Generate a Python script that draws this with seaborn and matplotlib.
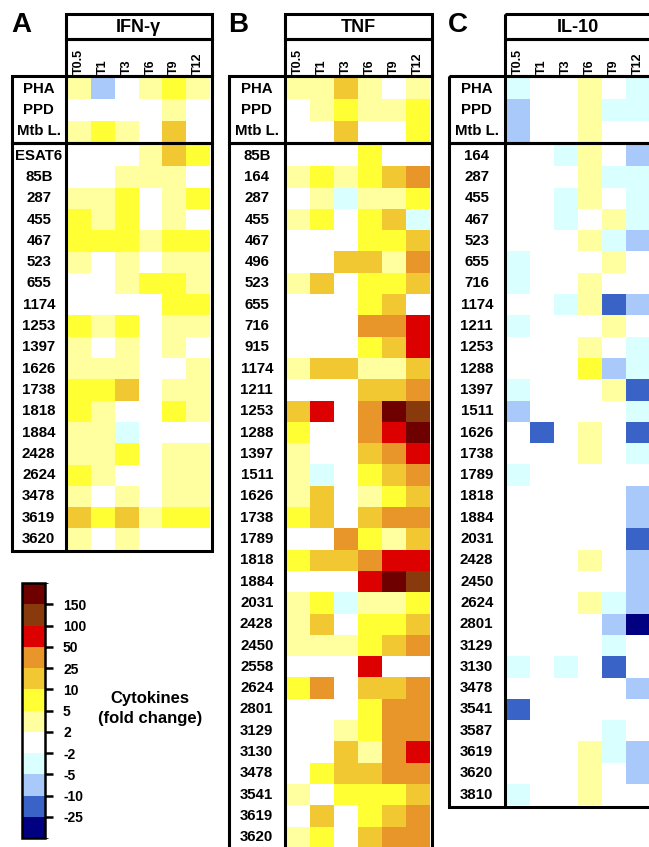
import numpy as np
import pandas as pd
import matplotlib
matplotlib.use("Agg")
import matplotlib.pyplot as plt
import seaborn as sns
from matplotlib.colors import ListedColormap, BoundaryNorm
from matplotlib.cm import ScalarMappable
from matplotlib.patches import Rectangle

plt.rcParams['font.family'] = ['Liberation Sans', 'DejaVu Sans']

# ---------------- data (fold-change class codes) ----------------
# code: -4 (<-25), -3 (-25..-10), -2 (-10..-5), -1 (-5..-2), 0 (-2..2),
#        1 (2..5), 2 (5..10), 3 (10..25), 4 (25..50), 5 (50..100), 6 (100..150), 7 (>150)
timepoints = ["T0.5", "T1", "T3", "T6", "T9", "T12"]
stimuli = ["PHA", "PPD", "Mtb L."]

ifng_stim = [
    [1, -2, 0, 1, 2, 1],
    [0, 0, 0, 0, 1, 0],
    [1, 2, 1, 0, 3, 0],
]
ifng_peptides = ["ESAT6", "85B", "287", "455", "467", "523", "655", "1174", "1253",
                 "1397", "1626", "1738", "1818", "1884", "2428", "2624", "3478",
                 "3619", "3620"]
ifng_pep = [
    [0, 0, 0, 1, 3, 2],
    [0, 0, 1, 1, 1, 0],
    [1, 1, 2, 0, 1, 2],
    [2, 1, 2, 0, 1, 0],
    [2, 2, 2, 1, 2, 2],
    [1, 0, 1, 0, 1, 1],
    [0, 0, 1, 2, 2, 1],
    [0, 0, 0, 0, 2, 2],
    [2, 1, 2, 0, 1, 1],
    [1, 0, 1, 0, 1, 0],
    [1, 1, 1, 0, 0, 1],
    [2, 2, 3, 0, 1, 1],
    [2, 1, 0, 0, 2, 1],
    [1, 1, -1, 0, 0, 0],
    [1, 1, 2, 0, 1, 1],
    [2, 1, 0, 0, 1, 1],
    [1, 0, 1, 0, 1, 1],
    [3, 2, 3, 1, 2, 2],
    [1, 0, 1, 0, 0, 0],
]

tnf_stim = [
    [1, 1, 3, 1, 0, 1],
    [0, 1, 2, 1, 1, 2],
    [0, 0, 3, 0, 0, 2],
]
tnf_peptides = ["85B", "164", "287", "455", "467", "496", "523", "655", "716", "915",
                "1174", "1211", "1253", "1288", "1397", "1511", "1626", "1738", "1789",
                "1818", "1884", "2031", "2428", "2450", "2558", "2624", "2801", "3129",
                "3130", "3478", "3541", "3619", "3620"]
tnf_pep = [
    [0, 0, 0, 2, 0, 0],
    [1, 2, 1, 2, 3, 4],
    [0, 1, -1, 1, 1, 2],
    [1, 2, 0, 2, 3, -1],
    [0, 0, 0, 2, 2, 3],
    [0, 0, 3, 3, 1, 4],
    [1, 3, 0, 2, 2, 3],
    [0, 0, 0, 2, 3, 0],
    [0, 0, 0, 4, 4, 5],
    [0, 0, 0, 2, 3, 5],
    [1, 3, 3, 1, 1, 3],
    [0, 0, 0, 3, 3, 4],
    [3, 5, 0, 4, 7, 6],
    [2, 0, 0, 4, 5, 7],
    [1, 0, 0, 3, 4, 5],
    [1, -1, 0, 2, 3, 4],
    [1, 3, 0, 1, 2, 3],
    [2, 3, 0, 3, 4, 4],
    [0, 0, 4, 2, 1, 3],
    [2, 3, 3, 4, 5, 5],
    [0, 0, 0, 5, 7, 6],
    [1, 2, -1, 1, 1, 2],
    [1, 3, 0, 2, 2, 3],
    [1, 1, 1, 2, 3, 4],
    [0, 0, 0, 5, 0, 0],
    [2, 4, 0, 3, 3, 4],
    [0, 0, 0, 2, 4, 4],
    [0, 0, 1, 2, 4, 4],
    [0, 0, 3, 1, 4, 5],
    [0, 2, 3, 3, 4, 4],
    [1, 0, 2, 2, 2, 3],
    [0, 3, 0, 2, 3, 4],
    [1, 2, 0, 3, 4, 4],
]

il10_stim = [
    [-1, 0, 0, 1, 0, -1],
    [-2, 0, 0, 1, -1, -1],
    [-2, 0, 0, 1, 0, 0],
]
il10_peptides = ["164", "287", "455", "467", "523", "655", "716", "1174", "1211", "1253",
                 "1288", "1397", "1511", "1626", "1738", "1789", "1818", "1884", "2031",
                 "2428", "2450", "2624", "2801", "3129", "3130", "3478", "3541", "3587",
                 "3619", "3620", "3810"]
il10_pep = [
    [0, 0, -1, 1, 0, -2],
    [0, 0, 0, 1, -1, -1],
    [0, 0, -1, 1, 0, -1],
    [0, 0, -1, 0, 1, -1],
    [0, 0, 0, 1, -1, -2],
    [-1, 0, 0, 0, 1, 0],
    [-1, 0, 0, 1, 0, 0],
    [0, 0, -1, 1, -3, -2],
    [-1, 0, 0, 0, 1, 0],
    [0, 0, 0, 1, 0, -1],
    [0, 0, 0, 2, -2, -1],
    [-1, 0, 0, 0, 1, -3],
    [-2, 0, 0, 0, 0, -1],
    [0, -3, 0, 1, 0, -3],
    [0, 0, 0, 1, 0, -1],
    [-1, 0, 0, 0, 0, 0],
    [0, 0, 0, 0, 0, -2],
    [0, 0, 0, 0, 0, -2],
    [0, 0, 0, 0, 0, -3],
    [0, 0, 0, 1, 0, -2],
    [0, 0, 0, 0, 0, -2],
    [0, 0, 0, 1, -1, -2],
    [0, 0, 0, 0, -2, -4],
    [0, 0, 0, 0, -1, 0],
    [-1, 0, -1, 0, -3, 0],
    [0, 0, 0, 0, 0, -2],
    [-3, 0, 0, 0, 0, 0],
    [0, 0, 0, 0, -1, 0],
    [0, 0, 0, 1, -1, -2],
    [0, 0, 0, 1, 0, -2],
    [-1, 0, 0, 1, 0, 0],
]

legend_ticks = ["-25", "-10", "-5", "-2", "2", "5", "10", "25", "50", "100", "150"]
level_colors = ["#000080", "#3a63c8", "#a9c9fb", "#d9ffff", "#ffffff", "#ffffa0",
                "#ffff33", "#f1c832", "#e8962a", "#dd0000", "#883a0c", "#6e0000"]

# ---------------- figure ----------------
W, H = 649, 847
fig = plt.figure(figsize=(W / 100, H / 100), dpi=100)
cmap = ListedColormap(level_colors)
VMIN, VMAX = -4.5, 7.5


def add_px_axes(x0, y0, x1, y1):
    return fig.add_axes([x0 / W, 1 - y1 / H, (x1 - x0) / W, (y1 - y0) / H])


RH = 21.3
TOP_Y0 = 78.0
BOT_Y0 = 145.0
LW = 2.2
ROW_FS = 10.8

panels = [
    ("A", "IFN-γ", ifng_stim, ifng_peptides, ifng_pep, 12.0, 65.5, 211.5),
    ("B", "TNF", tnf_stim, tnf_peptides, tnf_pep, 229.0, 284.5, 431.5),
    ("C", "IL-10", il10_stim, il10_peptides, il10_pep, 449.0, 504.5, 651.5),
]

ov = fig.add_axes([0, 0, 1, 1], zorder=10)
ov.set_xlim(0, W)
ov.set_ylim(H, 0)
ov.axis("off")
ov.patch.set_alpha(0)

for letter, title, stim, peps, pep, xl, xm, xr in panels:
    hx0, hx1 = xm + 1.5, xr - 1.5
    label_cx = (xl + xm) / 2
    pad_pt = (hx0 - label_cx) * 0.72

    # top block
    df_top = pd.DataFrame(stim, index=stimuli, columns=timepoints)
    ax_t = add_px_axes(hx0, TOP_Y0, hx1, TOP_Y0 + 3 * RH)
    sns.heatmap(df_top, ax=ax_t, cmap=cmap, vmin=VMIN, vmax=VMAX, cbar=False,
                xticklabels=True, yticklabels=True, linewidths=0)
    ax_t.xaxis.tick_top()
    ax_t.set_xticklabels(timepoints, rotation=90, fontsize=9, fontweight="bold",
                         va="bottom", ha="center")
    ax_t.set_yticklabels(stimuli, rotation=0, ha="center", fontsize=ROW_FS,
                         fontweight="bold")
    ax_t.tick_params(axis="x", length=0, pad=3.0)
    ax_t.tick_params(axis="y", length=0, pad=pad_pt)
    ax_t.set_xlabel("")
    ax_t.set_ylabel("")

    # bottom block
    n = len(peps)
    yb = BOT_Y0 + n * RH
    df_bot = pd.DataFrame(pep, index=peps, columns=timepoints)
    ax_b = add_px_axes(hx0, BOT_Y0, hx1, yb)
    sns.heatmap(df_bot, ax=ax_b, cmap=cmap, vmin=VMIN, vmax=VMAX, cbar=False,
                xticklabels=False, yticklabels=True, linewidths=0)
    ax_b.set_yticklabels(peps, rotation=0, ha="center", fontsize=ROW_FS,
                         fontweight="bold")
    ax_b.tick_params(axis="y", length=0, pad=pad_pt)
    ax_b.set_xlabel("")
    ax_b.set_ylabel("")

    # frames
    kw = dict(fill=False, lw=LW, edgecolor="black")
    ov.add_patch(Rectangle((xm, 14), xr - xm, 39 - 14, **kw))
    ov.add_patch(Rectangle((xm, 39), xr - xm, 76.5 - 39, **kw))
    ov.add_patch(Rectangle((xl, 76.5), xr - xl, 143.5 - 76.5, **kw))
    ov.add_patch(Rectangle((xl, 143.5), xr - xl, yb + 1.5 - 143.5, **kw))
    ov.plot([xm, xm], [76.5, yb + 1.5], color="black", lw=LW, solid_capstyle="butt")

    ov.text((xm + xr) / 2, 27, title, ha="center", va="center", fontsize=13,
            fontweight="bold")
    ov.text(xl - 1, 25, letter, ha="left", va="center", fontsize=20,
            fontweight="bold")

# ---------------- legend ----------------
cax = add_px_axes(22, 583, 45, 838)
bounds = np.arange(-4.5, 8.5, 1.0)
norm = BoundaryNorm(bounds, cmap.N)
sm = ScalarMappable(norm=norm, cmap=cmap)
cb = fig.colorbar(sm, cax=cax, ticks=np.arange(-3.5, 7.0, 1.0))
cb.outline.set_linewidth(1.8)
cax.set_yticklabels(legend_ticks, fontsize=10, fontweight="bold")
cax.tick_params(axis="y", right=True, left=False, length=6, width=1.8,
                direction="out", pad=7)
ov.text(150, 699, "Cytokines", ha="center", va="center", fontsize=12,
        fontweight="bold")
ov.text(150, 718, "(fold change)", ha="center", va="center", fontsize=12,
        fontweight="bold")

fig.savefig("out.png", dpi=100)
